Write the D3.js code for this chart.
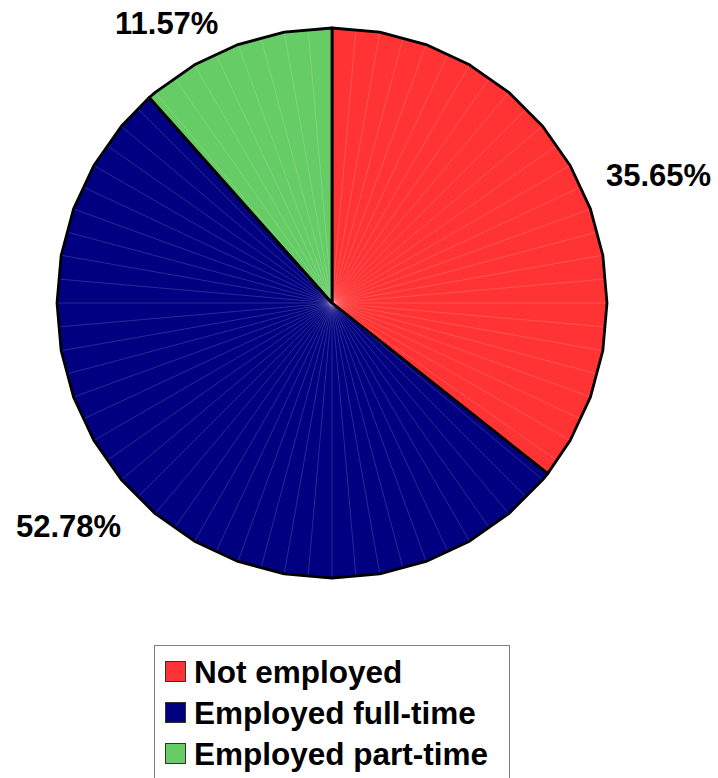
<!DOCTYPE html>
<html>
<head>
<meta charset="utf-8">
<script src="https://cdn.jsdelivr.net/npm/d3@7"></script>
<style>
  html, body { margin: 0; padding: 0; background: #fff; }
  svg { display: block; }
</style>
</head>
<body>
<svg id="chart" width="718" height="778"></svg>
<script>
const categories = ["Not employed", "Employed full-time", "Employed part-time"];
const values = [35.65, 52.78, 11.57];
const valueLabels = ["35.65%", "52.78%", "11.57%"];
const colors = ["#FF3333", "#000080", "#66CC66"];

const svg = d3.select("#chart");
const cx = 332, cy = 303, R = 275;
const font = "'Liberation Sans', Arial, sans-serif";

const pie = d3.pie().sort(null).value(d => d)(values);
const rad = d3.scaleLinear().domain([0, 360]).range([0, 2 * Math.PI]);
const pt = (a, r) => [cx + r * Math.sin(a), cy - r * Math.cos(a)];
const line = d3.line();

const g = svg.append("g");
pie.forEach((s, i) => {
  const pts = [[cx, cy], pt(s.startAngle, R)];
  const step = rad(10);
  let k = Math.floor(s.startAngle / step + 1e-9) + 1;
  while (k * step < s.endAngle - 1e-6) { pts.push(pt(k * step, R)); k++; }
  pts.push(pt(s.endAngle, R));
  g.append("path").attr("d", line(pts) + "Z").attr("fill", colors[i]);
  // faint facet lines every 5 degrees
  const fs = rad(5);
  let j = Math.floor(s.startAngle / fs + 1e-9) + 1;
  while (j * fs < s.endAngle - 1e-6) {
    const r = (j % 2 === 0) ? R : R * Math.cos(rad(5));
    g.append("path").attr("d", line([[cx, cy], pt(j * fs, r)]))
      .attr("stroke", "#fff").attr("stroke-opacity", 0.28).attr("stroke-width", 0.6).attr("fill", "none");
    j++;
  }
  g.append("path").attr("d", line(pts) + "Z").attr("fill", "none")
    .attr("stroke", "#000").attr("stroke-width", 2.8).attr("stroke-linejoin", "round");
});

// value labels
const labelPos = [[606, 186, "start"], [16, 537, "start"], [115, 34, "start"]];
valueLabels.forEach((t, i) => {
  svg.append("text").attr("x", labelPos[i][0]).attr("y", labelPos[i][1])
    .attr("text-anchor", labelPos[i][2])
    .attr("font-family", font).attr("font-weight", "bold").attr("font-size", 31)
    .attr("fill", "#000").text(t);
});

// legend
const lg = svg.append("g");
lg.append("rect").attr("x", 154.5).attr("y", 645.5).attr("width", 355).attr("height", 140)
  .attr("fill", "#fff").attr("stroke", "#808080").attr("stroke-width", 1);
const ly = d3.scalePoint().domain(categories).range([683, 765]);
categories.forEach((c, i) => {
  lg.append("rect").attr("x", 165.5).attr("y", ly(c) - 21.5).attr("width", 20).attr("height", 20)
    .attr("fill", colors[i]).attr("stroke", "#333").attr("stroke-width", 1);
  lg.append("text").attr("x", 194).attr("y", ly(c))
    .attr("font-family", font).attr("font-weight", "bold").attr("font-size", 31.5)
    .attr("fill", "#000").text(c);
});
</script>
</body>
</html>
